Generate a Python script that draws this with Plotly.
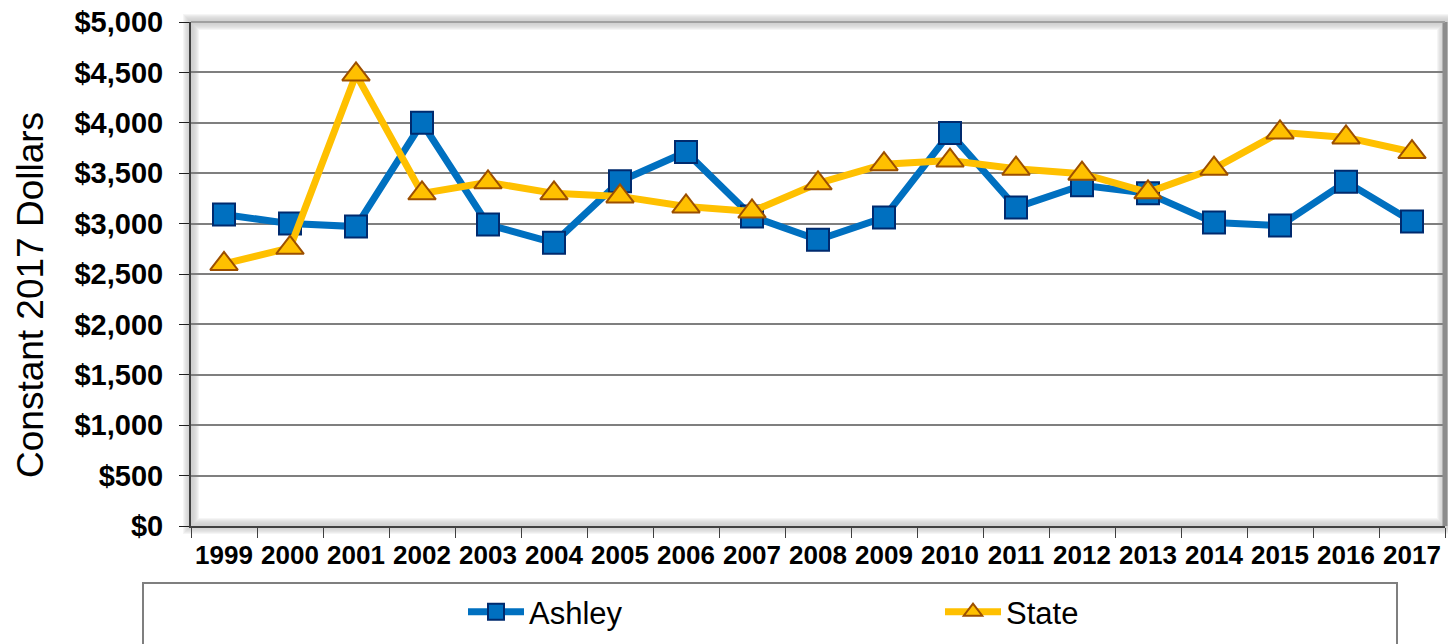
import plotly.graph_objects as go

# data
years = [str(y) for y in range(1999, 2018)]
ashley = [3090, 3000, 2970, 4000, 2990, 2810, 3420, 3710, 3070, 2840,
          3060, 3900, 3160, 3380, 3300, 3010, 2980, 3415, 3020]
state = [2600, 2760, 4480, 3300, 3410, 3300, 3270, 3170, 3120, 3400,
         3590, 3625, 3545, 3495, 3310, 3545, 3905, 3855, 3710]
y_ticks = [0, 500, 1000, 1500, 2000, 2500, 3000, 3500, 4000, 4500, 5000]
y_labels = [f"${v:,}" for v in y_ticks]

FONT = "Arial, Liberation Sans, sans-serif"

# plot area in page pixels
L, T, PW, PH = 191, 22, 1254, 504
W, H = 1448, 644


def px(x):
    return (x - L) / PW


def py(y):
    return (T + PH - y) / PH


fig = go.Figure()

fig.add_trace(go.Scatter(
    x=years, y=ashley, name="Ashley", mode="lines+markers",
    line=dict(color="#0070C0", width=7),
    marker=dict(symbol="square", size=22, color="#0070C0",
                line=dict(color="#002A6E", width=2)),
))
fig.add_trace(go.Scatter(
    x=years, y=state, name="State", mode="lines+markers",
    line=dict(color="#FFC000", width=7),
    marker=dict(symbol="triangle-up", size=24, color="#FFC000",
                line=dict(color="#9C4F00", width=2)),
))

# inner shadow of the plot frame
shapes = []
for i in range(8):
    a = 0.04 * (1 - i / 8)
    shapes.append(dict(type="rect", xref="paper", yref="paper", layer="below",
                       x0=0, x1=1, y0=0, y1=1,
                       line=dict(color=f"rgba(0,0,0,{a:.3f})", width=2 * (8 - i)),
                       fillcolor="rgba(0,0,0,0)"))
# right border bar
shapes.append(dict(type="line", xref="paper", yref="paper", x0=1, x1=1, y0=0, y1=1,
                   line=dict(color="#8c8c8c", width=5), layer="above"))
shapes.append(dict(type="line", xref="paper", yref="paper", x0=0, x1=1, y0=1, y1=1,
                   line=dict(color="#a0a0a0", width=2), layer="above"))
# legend box
shapes.append(dict(type="rect", xref="paper", yref="paper",
                   x0=px(143), x1=px(1397), y0=py(700), y1=py(583),
                   line=dict(color="#7f7f7f", width=2), fillcolor="white"))

fig.update_layout(
    width=W, height=H,
    margin=dict(l=L, r=W - L - PW, t=T, b=H - T - PH),
    paper_bgcolor="white", plot_bgcolor="white",
    font=dict(family=FONT, color="black"),
    shapes=shapes,
    showlegend=True,
    legend=dict(orientation="h", x=px(463), xanchor="left",
                y=py(612), yanchor="middle", bgcolor="rgba(0,0,0,0)",
                font=dict(size=31, family=FONT), itemwidth=56,
                entrywidth=406, entrywidthmode="pixels", tracegroupgap=0),
    annotations=[dict(text="Constant 2017 Dollars", xref="paper", yref="paper",
                      x=px(30), y=py(295), xanchor="center", yanchor="middle",
                      textangle=-90, showarrow=False,
                      font=dict(size=37, family=FONT))],
)

fig.update_xaxes(
    type="category", range=[-0.5, len(years) - 0.5],
    tickson="boundaries", ticks="outside", ticklen=10,
    tickcolor="#404040", showgrid=False, showline=True, linecolor="#404040",
    linewidth=2, tickfont=dict(size=26, family=FONT, weight="bold"),
    tickangle=0, ticklabelstandoff=5, automargin=False,
    ticklabeloverflow="allow",
)
fig.update_yaxes(
    range=[0, 5000], tickvals=y_ticks, ticktext=y_labels,
    ticks="outside", ticklen=10, tickcolor="#202020",
    showgrid=True, gridcolor="#7f7f7f", gridwidth=1.5,
    showline=True, linecolor="#404040", linewidth=2, zeroline=False,
    tickfont=dict(size=29, family=FONT, weight="bold"),
    ticklabelstandoff=10, automargin=False, ticklabeloverflow="allow",
)

# drop the default page margin so the figure sits at the window's corner
fig.write_html("out.html", config={"displayModeBar": False},
               post_script="document.body.style.margin='0';")
